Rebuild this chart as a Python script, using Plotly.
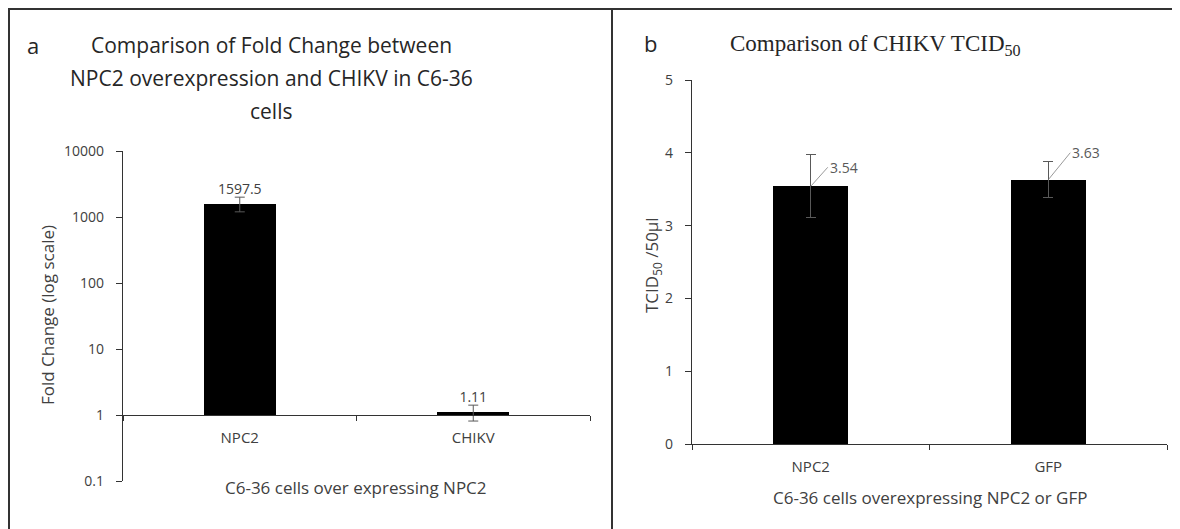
import numpy as np
import plotly.graph_objects as go

# ---------------- data ----------------
cats_a = ["NPC2", "CHIKV"]
vals_a = [1597.5, 1.11]
err_a = [400, 0.3]

cats_b = ["NPC2", "GFP"]
vals_b = [3.54, 3.63]
err_b = [0.43, 0.25]

ticks_a = [0.1, 1, 10, 100, 1000, 10000]
ticks_a_text = ["0.1", "1", "10", "100", "1000", "10000"]
ticks_b = [0, 1, 2, 3, 4, 5]

W, H = 1180, 529
OX, OY = 8, 8  # page body margin offset
px = lambda x: (x - OX) / W
py = lambda y: 1 - (y - OY) / H

SANS = "Open Sans"
SERIF = "Liberation Serif"
AX = "#333333"
TXT = "#404040"
LBL = "#595959"

fig = go.Figure()

# ---- panel a ----
base_a = 1
fig.add_trace(go.Bar(x=cats_a, y=[v - base_a for v in vals_a], base=base_a,
                     marker=dict(color="black", line=dict(width=0)), width=0.31,
                     xaxis="x", yaxis="y", showlegend=False, hoverinfo="skip"))
fig.add_trace(go.Scatter(x=cats_a, y=vals_a, mode="markers",
                         marker=dict(size=1, color="rgba(0,0,0,0)"),
                         error_y=dict(type="data", array=err_a, color=LBL, thickness=1, width=5),
                         xaxis="x", yaxis="y", showlegend=False, hoverinfo="skip"))
fig.add_trace(go.Scatter(x=cats_a, y=[v + e for v, e in zip(vals_a, err_a)], mode="text",
                         text=[str(v) for v in vals_a], textposition="top center",
                         textfont=dict(family=SANS, size=14, color=TXT),
                         xaxis="x", yaxis="y", showlegend=False, hoverinfo="skip"))

# ---- panel b ----
fig.add_trace(go.Bar(x=cats_b, y=vals_b,
                     marker=dict(color="black", line=dict(width=0)), width=0.316,
                     error_y=dict(type="data", array=err_b, color=LBL, thickness=1, width=5),
                     xaxis="x2", yaxis="y2", showlegend=False, hoverinfo="skip"))

ya_dom = [py(481), py(151)]
ya_rng = [-1, 4]
xa_pos = ya_dom[0] + (np.log10(base_a) - ya_rng[0]) / (ya_rng[1] - ya_rng[0]) * (ya_dom[1] - ya_dom[0])

fig.update_layout(
    template="none",
    width=W, height=H, margin=dict(l=0, r=0, t=0, b=0, pad=0, autoexpand=False),
    paper_bgcolor="white", plot_bgcolor="rgba(0,0,0,0)", showlegend=False,
    bargap=0, font=dict(family=SANS, color=TXT),
    xaxis=dict(domain=[px(123), px(590)], anchor="free", position=xa_pos,
               type="category", showline=True, linecolor=AX, linewidth=1.3,
               ticks="outside", tickson="boundaries", ticklen=5, tickcolor=AX,
               tickfont=dict(family=SANS, size=15, color=TXT), ticklabelstandoff=9,
               showgrid=False, zeroline=False, automargin=False),
    yaxis=dict(domain=ya_dom, type="log", range=ya_rng, anchor="x",
               showline=True, linecolor=AX, linewidth=1.3, ticks="outside", ticklen=6,
               tickcolor=AX, tickvals=ticks_a, ticktext=ticks_a_text,
               tickfont=dict(family=SANS, size=14, color=TXT), ticklabelstandoff=9,
               showgrid=False, zeroline=False, automargin=False),
    xaxis2=dict(domain=[px(692), px(1167)], anchor="y2", type="category",
                showline=True, linecolor=AX, linewidth=1.3,
                ticks="outside", tickson="boundaries", ticklen=5, tickcolor=AX,
                tickfont=dict(family=SANS, size=15, color=TXT), ticklabelstandoff=9,
                showgrid=False, zeroline=False, automargin=False),
    yaxis2=dict(domain=[py(444), py(80)], range=[0, 5], anchor="x2",
                showline=True, linecolor=AX, linewidth=1.3, ticks="outside", ticklen=6,
                tickcolor=AX, tickvals=ticks_b,
                tickfont=dict(family=SANS, size=14, color=TXT), ticklabelstandoff=9,
                showgrid=False, zeroline=False, automargin=False),
)

ann = []
def T(x, y, text, size, family=SANS, color="#262626", angle=0, xanchor="center"):
    ann.append(dict(x=px(x), y=py(y), xref="paper", yref="paper", text=text,
                    showarrow=False, xanchor=xanchor, yanchor="middle",
                    textangle=angle, font=dict(family=family, size=size, color=color)))

# panel a texts
T(33, 45, "a", 22)
T(271, 45, "Comparison of Fold Change between", 21)
T(271, 78, "NPC2 overexpression and CHIKV in C6-36", 21)
T(271, 111, "cells", 21)
T(47, 315, "Fold Change (log scale)", 17, color=TXT, angle=-90)
T(356, 487, "C6-36 cells over expressing NPC2", 17, color=TXT)

# panel b texts
T(650, 43, "b", 22)
T(875, 45, "Comparison of CHIKV TCID<sub>50</sub>", 23, family=SERIF)
T(652, 265, "TCID<sub>50</sub> /50µl", 17, color=TXT, angle=-90)
T(930, 497, "C6-36 cells overexpressing NPC2 or GFP", 17, color=TXT)

# panel b data labels with leader lines
offs = [(17, -19), (22, -27)]
for c, v, (ox, oy) in zip(cats_b, vals_b, offs):
    ann.append(dict(x=c, y=v, xref="x2", yref="y2", text=f"{v:.2f}",
                    showarrow=True, arrowhead=0, arrowwidth=0.8, arrowcolor="#7f7f7f",
                    ax=ox, ay=oy, xanchor="left", yanchor="middle", standoff=0,
                    font=dict(family=SANS, size=14, color=LBL)))

fig.update_layout(annotations=ann)

# border / frame lines
shapes = [
    dict(type="line", xref="paper", yref="paper", x0=px(8), x1=1, y0=py(9), y1=py(9),
         line=dict(color="#333333", width=2)),
    dict(type="line", xref="paper", yref="paper", x0=px(9), x1=px(9), y0=py(9), y1=0,
         line=dict(color="#333333", width=2)),
    dict(type="line", xref="paper", yref="paper", x0=px(612), x1=px(612), y0=py(9), y1=0,
         line=dict(color="#333333", width=2)),
]
fig.update_layout(shapes=shapes)

fig.write_html("out.html")
